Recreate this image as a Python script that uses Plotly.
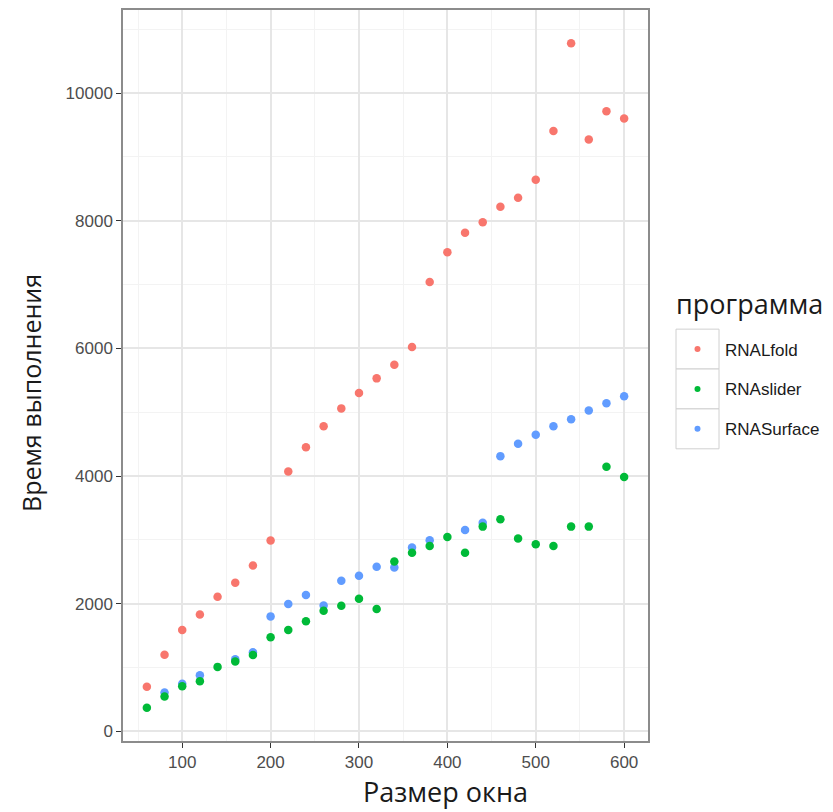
import plotly.graph_objects as go

# Window sizes (x) and run times for each program
window_size = [60, 80, 100, 120, 140, 160, 180, 200, 220, 240, 260, 280, 300, 320,
               340, 360, 380, 400, 420, 440, 460, 480, 500, 520, 540, 560, 580, 600]

rnalfold = [700, 1200, 1590, 1830, 2110, 2330, 2600, 2990, 4070, 4450, 4780, 5060, 5300, 5530,
            5745, 6020, 7040, 7505, 7810, 7975, 8220, 8360, 8640, 9405, 10780, 9270, 9715, 9600]

rnaslider = [370, 547, 708, 786, 1011, 1094, 1198, 1474, 1589, 1724, 1891, 1969, 2078, 1917,
             2661, 2797, 2906, 3047, 2797, 3208, 3323, 3021, 2932, 2906, 3208, 3208, 4146, 3984]

rnasurface = [None, 609, 745, 880, None, 1130, 1240, 1802, 1995, 2136, 1974, 2359, 2437, 2578,
              2568, 2880, 2995, None, 3156, 3270, 4312, 4505, 4646, 4781, 4891, 5026, 5141, 5250]

series_names = ["RNALfold", "RNAslider", "RNASurface"]
series_colors = ["#F8766D", "#00BA38", "#619CFF"]

x_ticks = [100, 200, 300, 400, 500, 600]
y_ticks = [0, 2000, 4000, 6000, 8000, 10000]

# Figure geometry
W, H = 833, 812
ML, MR, MT, MB = 123, 185, 8, 71
PW, PH = W - ML - MR, H - MT - MB


def px(xp):
    return (xp - ML) / PW


def py(yp):
    return (H - MB - yp) / PH


fig = go.Figure()

series = {"RNALfold": rnalfold, "RNAslider": rnaslider, "RNASurface": rnasurface}
color_of = dict(zip(series_names, series_colors))
for name in ["RNALfold", "RNASurface", "RNAslider"]:
    fig.add_trace(go.Scatter(
        x=window_size, y=series[name], mode="markers", name=name,
        marker=dict(color=color_of[name], size=8.5, line=dict(width=0)),
        showlegend=False,
    ))

tick_font = dict(family="Liberation Sans, Arial, sans-serif", size=17, color="#4d4d4d")
axis_common = dict(
    showline=True, linecolor="#8c8c8c", linewidth=1.5, mirror=True,
    showgrid=True, gridcolor="#e6e6e6", gridwidth=1.5,
    ticks="outside", ticklen=5, tickcolor="#333333", tickwidth=1,
    tickfont=tick_font, zeroline=False,
)

fig.update_xaxes(
    range=[33, 627], tickvals=x_ticks, ticktext=[str(v) for v in x_ticks],
    minor=dict(showgrid=True, gridcolor="#f3f3f3", gridwidth=1,
               tickvals=[50, 150, 250, 350, 450, 550]),
    **axis_common,
)
fig.update_yaxes(
    range=[-150, 11300], tickvals=y_ticks, ticktext=[str(v) for v in y_ticks],
    minor=dict(showgrid=True, gridcolor="#f3f3f3", gridwidth=1,
               tickvals=[1000, 3000, 5000, 7000, 9000, 11000]),
    **axis_common,
)

title_font = dict(family="Open Sans, DejaVu Sans, sans-serif", size=25, color="#1a1a1a")
wide_title_font = dict(title_font, size=27)

annotations = [
    dict(text="Размер окна", x=px(445), y=py(792), xref="paper", yref="paper",
         xanchor="center", yanchor="middle", showarrow=False, font=wide_title_font),
    dict(text="Время выполнения", x=px(31), y=py(392), xref="paper", yref="paper",
         xanchor="center", yanchor="middle", showarrow=False, textangle=-90, font=title_font),
    dict(text="программа", x=px(674), y=py(302), xref="paper", yref="paper",
         xanchor="left", yanchor="middle", showarrow=False, font=wide_title_font),
]

shapes = []
box_left, box_right, box_top, box_h = 676, 719, 328, 40
for i, name in enumerate(series_names):
    top = box_top + i * box_h
    shapes.append(dict(type="rect", xref="paper", yref="paper",
                       x0=px(box_left), x1=px(box_right), y0=py(top), y1=py(top + box_h),
                       line=dict(color="#d0d0d0", width=1), fillcolor="white", layer="above"))
    cy = top + box_h / 2
    cx = (box_left + box_right) / 2
    r = 3
    shapes.append(dict(type="circle", xref="paper", yref="paper",
                       x0=px(cx - r), x1=px(cx + r), y0=py(cy + r), y1=py(cy - r),
                       line=dict(width=0), fillcolor=series_colors[i], layer="above"))
    annotations.append(dict(text=name, x=px(723), y=py(cy + 1), xref="paper", yref="paper",
                            xanchor="left", yanchor="middle", showarrow=False,
                            font=dict(family="Liberation Sans, Arial, sans-serif",
                                      size=17, color="#1a1a1a")))

fig.update_layout(
    width=W, height=H,
    margin=dict(l=ML, r=MR, t=MT, b=MB),
    paper_bgcolor="white", plot_bgcolor="white",
    showlegend=False,
    annotations=annotations, shapes=shapes,
)

fig.write_html("out.html")
